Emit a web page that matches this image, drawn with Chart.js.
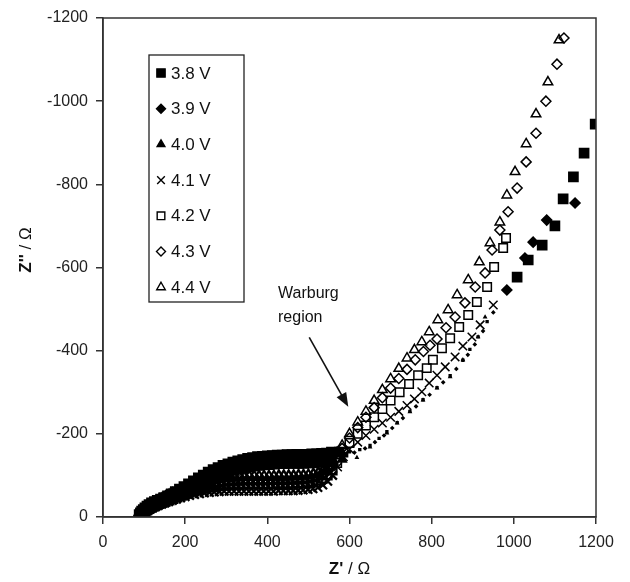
<!DOCTYPE html>
<html>
<head>
<meta charset="utf-8">
<script src="https://cdn.jsdelivr.net/npm/chart.js@4.4.1/dist/chart.umd.min.js"></script>
<style>
  html, body { margin: 0; background: #fff; }
  #wrap { width: 630px; height: 582px; }
</style>
</head>
<body>
<div id="wrap"><canvas id="c"></canvas></div>
<script>
// Nyquist data, Z' (ohm) and Z'' (ohm, negative)
const labels = ["3.8 V", "3.9 V", "4.0 V", "4.1 V", "4.2 V", "4.3 V", "4.4 V"];

const zre38 = [89,92,95,99,103,108,113,119,126,133,141,149,158,167,177,187,198,209,221,233,245,257,269,281,293,305,317,329,341,353,365,377,389,401,413,425,437,449,461,473,485,497,509,521,533,545,557,
  575,600,625,650,672,691,716,747,779,813,845,876,893,913,935,1008,1035,1069,1100,1120,1145,1171,1198];
const zim38 = [-5,-9,-13,-17,-21,-25,-29,-33,-36,-39,-42,-46,-50,-55,-60,-66,-72,-79,-86,-93,-100,-107,-113,-118,-123,-127,-131,-134,-137,-140,-142,-144,-145,-146,-147,-148,-148,-149,-149,-150,-150,-150,-151,-151,-152,-153,-155,
  -156,-157,-162,-172,-189,-205,-227,-254,-282,-311,-340,-377,-403,-433,-470,-577,-618,-654,-700,-765,-818,-875,-945];

const zre39 = [90,93,96,100,104,109,114,120,127,134,142,150,159,168,178,188,199,210,222,234,246,258,270,282,294,306,318,330,342,354,366,378,390,402,414,426,438,450,462,474,486,498,510,522,534,546,558,
  582,612,638,662,684,704,730,762,795,828,860,888,905,925,950,983,1027,1047,1080,1149];
const zim39 = [-3,-7,-11,-15,-18,-21,-24,-27,-30,-33,-36,-39,-42,-46,-50,-55,-60,-66,-72,-79,-86,-92,-98,-104,-109,-113,-117,-121,-124,-127,-129,-131,-133,-134,-135,-136,-137,-137,-138,-138,-138,-139,-139,-140,-141,-143,-146,
  -150,-155,-165,-180,-196,-214,-238,-266,-294,-324,-356,-390,-415,-447,-492,-546,-623,-661,-714,-755];

const zre40 = [91,94,97,101,105,110,115,121,128,135,143,151,160,169,179,189,200,211,223,235,247,259,271,283,295,307,319,331,343,355,367,379,391,403,415,427,439,451,463,475,487,499,511,523,535,547,559,
  582,618,650,691,716,747,779,813,845,876,913,930];
const zim40 = [-1,-4,-7,-10,-13,-16,-19,-22,-25,-28,-31,-34,-37,-40,-44,-48,-53,-58,-64,-70,-76,-82,-88,-94,-99,-104,-108,-111,-114,-116,-118,-120,-121,-122,-123,-124,-124,-125,-125,-125,-125,-126,-126,-127,-128,-130,-134,
  -138,-143,-168,-202,-226,-253,-281,-310,-337,-378,-433,-481];

const zre41 = [91,94,97,101,105,110,115,121,128,135,143,151,160,169,179,189,200,211,223,235,247,259,271,283,295,307,319,331,343,355,367,379,391,403,415,427,439,451,463,475,487,499,511,523,535,547,559,571,
  585,600,620,640,660,680,700,720,740,758,776,794,813,833,857,876,898,918,950];
const zim41 = [-1,-4,-7,-10,-13,-16,-19,-22,-25,-28,-31,-34,-37,-40,-43,-46,-49,-52,-54,-56,-58,-59,-60,-61,-62,-62,-62,-62,-62,-62,-62,-62,-62,-62,-62,-63,-63,-63,-63,-64,-65,-66,-68,-71,-77,-86,-100,-120,
  -145,-163,-180,-196,-211,-226,-240,-254,-268,-284,-301,-322,-341,-361,-385,-411,-433,-462,-510];

const zre42 = [90,93,96,100,104,109,114,120,127,134,142,150,159,168,178,188,199,210,222,234,246,258,270,282,294,306,318,330,342,354,366,378,390,402,414,426,438,450,462,474,486,498,510,522,534,546,558,570,
  585,600,620,640,660,680,700,722,745,767,788,803,825,845,867,889,910,935,952,974,981];
const zim42 = [-3,-7,-11,-15,-18,-21,-24,-27,-30,-33,-36,-39,-42,-45,-49,-53,-56,-60,-63,-66,-69,-71,-73,-75,-76,-77,-78,-78,-79,-79,-79,-79,-79,-79,-80,-80,-80,-80,-81,-81,-82,-83,-85,-88,-93,-101,-113,-130,
  -155,-178,-200,-220,-240,-260,-280,-300,-320,-341,-358,-378,-406,-430,-457,-486,-517,-553,-601,-647,-671];

const zre43 = [89,92,95,99,103,108,113,119,126,133,141,149,158,167,177,187,198,209,221,233,245,257,269,281,293,305,317,329,341,353,365,377,389,401,413,425,437,449,461,473,485,497,509,521,533,545,557,569,
  582,600,620,640,660,680,700,720,740,760,780,796,813,835,857,881,906,930,947,966,986,1008,1030,1054,1078,1105,1122];
const zim43 = [-4,-8,-12,-16,-20,-23,-26,-29,-32,-35,-38,-41,-44,-48,-52,-56,-60,-64,-68,-71,-74,-77,-79,-81,-83,-84,-85,-85,-86,-86,-86,-86,-86,-86,-87,-87,-87,-87,-88,-88,-89,-90,-92,-95,-101,-110,-123,-142,
  -165,-190,-215,-240,-263,-287,-310,-333,-355,-378,-398,-413,-428,-455,-481,-515,-553,-587,-642,-690,-734,-791,-854,-923,-1000,-1089,-1152];

const zre44 = [92,95,98,102,106,111,116,122,129,136,144,152,161,170,180,190,201,212,224,236,248,260,272,284,296,308,320,332,344,356,368,380,392,404,416,428,440,452,464,476,488,500,512,524,536,548,560,570,
  582,600,620,640,660,680,700,720,740,758,776,794,815,840,862,889,916,942,966,983,1003,1030,1054,1083,1110];
const zim44 = [-6,-11,-15,-19,-23,-27,-30,-33,-36,-40,-44,-48,-52,-56,-60,-64,-68,-72,-76,-80,-84,-87,-90,-92,-94,-95,-96,-97,-97,-98,-98,-98,-98,-98,-98,-99,-99,-99,-99,-100,-100,-101,-103,-106,-112,-122,-137,-155,
  -172,-200,-228,-254,-280,-306,-332,-357,-382,-402,-421,-445,-474,-498,-534,-570,-613,-659,-709,-774,-830,-897,-969,-1046,-1147];

const xTicks = [0, 200, 400, 600, 800, 1000, 1200];
const yTicks = [-1200, -1000, -800, -600, -400, -200, 0];

const zre = [zre38, zre39, zre40, zre41, zre42, zre43, zre44];
const zim = [zim38, zim39, zim40, zim41, zim42, zim43, zim44];

const styles = [
  { pointStyle: 'rect',     radius: 6.5, filled: true },
  { pointStyle: 'rectRot',  radius: 5,   filled: true },
  { pointStyle: 'triangle', radius: 5,   filled: true },
  { pointStyle: 'crossRot', radius: 6,   filled: false },
  { pointStyle: 'rect',     radius: 6,   filled: false },
  { pointStyle: 'rectRot',  radius: 5,   filled: false },
  { pointStyle: 'triangle', radius: 5.5, filled: false }
];

const FONT = "'Liberation Sans', Arial, sans-serif";

const datasets = labels.map((lab, i) => ({
  label: lab,
  data: zre[i].map((x, k) => ({ x: x, y: zim[i][k] })),
  pointStyle: styles[i].pointStyle,
  // the filled series show only as small dots along the lower tail
  pointRadius: styles[i].filled
    ? (ctx => (ctx.raw && ctx.raw.x > 590 && ctx.raw.x < 960) ? 1.3 : styles[i].radius)
    : styles[i].radius,
  // the crowded semicircle prints as a solid band
  pointBorderWidth: ctx => (ctx.raw && ctx.raw.x < 560) ? 2.3 : 1.5,
  pointBorderColor: '#000',
  pointBackgroundColor: styles[i].filled ? '#000' : 'rgba(0,0,0,0)',
  showLine: false
}));

const extras = {
  id: 'extras',
  beforeDraw(chart) {
    const ctx = chart.ctx;
    ctx.save();
    ctx.fillStyle = '#fff';
    ctx.fillRect(0, 0, chart.width, chart.height);
    ctx.restore();
  },
  afterDraw(chart) {
    const ctx = chart.ctx;
    const a = chart.chartArea;
    const xs = chart.scales.x, ys = chart.scales.y;
    ctx.save();

    // frame
    ctx.strokeStyle = '#333';
    ctx.lineWidth = 1.5;
    ctx.strokeRect(a.left, a.top, a.right - a.left, a.bottom - a.top);

    // legend box
    const lx = 149, ly = 55, lw = 95, lh = 247;
    ctx.fillStyle = '#fff';
    ctx.fillRect(lx, ly, lw, lh);
    ctx.strokeStyle = '#222';
    ctx.lineWidth = 1.3;
    ctx.strokeRect(lx, ly, lw, lh);
    ctx.font = '17px ' + FONT;
    ctx.textBaseline = 'middle';
    labels.forEach((lab, i) => {
      const y = 73 + i * 35.7;
      const st = styles[i];
      ctx.fillStyle = st.filled ? '#000' : 'rgba(0,0,0,0)';
      ctx.strokeStyle = '#000';
      ctx.lineWidth = 1.4;
      Chart.helpers.drawPoint(ctx, {
        pointStyle: st.pointStyle, radius: st.radius * 0.9, rotation: 0, borderWidth: 1.4
      }, 161, y);
      ctx.fillStyle = '#111';
      ctx.fillText(lab, 171, y + 1);
    });

    // annotation
    ctx.fillStyle = '#111';
    ctx.font = '16px ' + FONT;
    ctx.textBaseline = 'alphabetic';
    ctx.fillText('Warburg', 278, 298);
    ctx.fillText('region', 278, 322);
    const x0 = xs.getPixelForValue(502), y0 = ys.getPixelForValue(-432);
    const x1 = xs.getPixelForValue(597), y1 = ys.getPixelForValue(-265);
    const ang = Math.atan2(y1 - y0, x1 - x0);
    ctx.strokeStyle = '#111';
    ctx.lineWidth = 1.6;
    ctx.beginPath();
    ctx.moveTo(x0, y0);
    ctx.lineTo(x1 - 10 * Math.cos(ang), y1 - 10 * Math.sin(ang));
    ctx.stroke();
    ctx.beginPath();
    ctx.moveTo(x1, y1);
    ctx.lineTo(x1 - 14 * Math.cos(ang) + 5.5 * Math.sin(ang), y1 - 14 * Math.sin(ang) - 5.5 * Math.cos(ang));
    ctx.lineTo(x1 - 14 * Math.cos(ang) - 5.5 * Math.sin(ang), y1 - 14 * Math.sin(ang) + 5.5 * Math.cos(ang));
    ctx.closePath();
    ctx.fill();

    // axis titles: bold symbol, normal unit
    const drawTitle = (sym, cx, cy) => {
      ctx.font = 'bold 17px ' + FONT;
      const w1 = ctx.measureText(sym).width;
      ctx.font = '17px ' + FONT;
      const w2 = ctx.measureText(' / \u03A9').width;
      const sx = cx - (w1 + w2) / 2;
      ctx.font = 'bold 17px ' + FONT;
      ctx.fillText(sym, sx, cy);
      ctx.font = '17px ' + FONT;
      ctx.fillText(' / \u03A9', sx + w1, cy);
    };
    ctx.fillStyle = '#111';
    ctx.textBaseline = 'middle';
    drawTitle("Z'", (a.left + a.right) / 2, 569);

    ctx.translate(26, 250);
    ctx.rotate(-Math.PI / 2);
    drawTitle("Z''", 0, 0);
    ctx.restore();
  }
};

new Chart(document.getElementById('c'), {
  type: 'scatter',
  data: { datasets: datasets },
  options: {
    responsive: true,
    maintainAspectRatio: false,
    animation: false,
    layout: { padding: { top: 18, right: 34, left: 0, bottom: 0 } },
    plugins: { legend: { display: false }, tooltip: { enabled: false } },
    scales: {
      x: {
        type: 'linear', min: 0, max: 1200,
        afterBuildTicks: s => { s.ticks = xTicks.map(v => ({ value: v })); },
        afterFit: s => { s.height = 65; },
        ticks: { color: '#222', font: { family: FONT, size: 16 }, padding: 9, callback: v => String(v) },
        grid: { drawOnChartArea: false, drawTicks: true, tickLength: 7, color: '#333', lineWidth: 1.5 },
        border: { display: true, color: '#333', width: 1.5 }
      },
      y: {
        type: 'linear', min: -1200, max: 0, reverse: true,
        afterBuildTicks: s => { s.ticks = yTicks.map(v => ({ value: v })); },
        afterFit: s => { s.width = 103; },
        ticks: { color: '#222', font: { family: FONT, size: 16 }, padding: 8, callback: v => String(v) },
        grid: { drawOnChartArea: false, drawTicks: true, tickLength: 7, color: '#333', lineWidth: 1.5 },
        border: { display: true, color: '#333', width: 1.5 }
      }
    }
  },
  plugins: [extras]
});
</script>
</body>
</html>
